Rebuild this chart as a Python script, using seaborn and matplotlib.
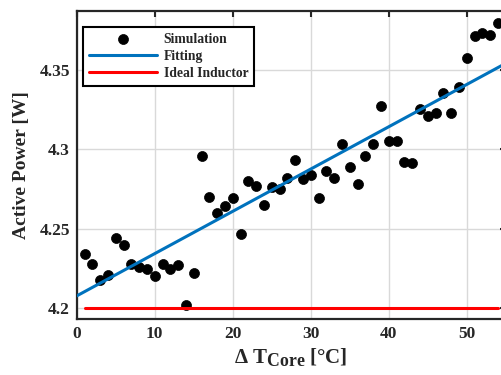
import numpy as np
import pandas as pd
import matplotlib
matplotlib.use("Agg")
import matplotlib.pyplot as plt
import matplotlib._mathtext as _mt
import seaborn as sns

# ---- data ----
delta_t = list(range(1, 55))
power = [4.234, 4.228, 4.218, 4.221, 4.244, 4.240, 4.228, 4.226, 4.225, 4.220,
         4.228, 4.225, 4.227, 4.202, 4.222, 4.296, 4.270, 4.260, 4.264, 4.269,
         4.247, 4.280, 4.277, 4.265, 4.276, 4.275, 4.282, 4.293, 4.281, 4.284,
         4.269, 4.286, 4.282, 4.303, 4.289, 4.278, 4.296, 4.303, 4.327, 4.305,
         4.305, 4.292, 4.291, 4.325, 4.321, 4.323, 4.335, 4.323, 4.339, 4.357,
         4.371, 4.373, 4.372, 4.379]
fit_x = [0, 55]
fit_y = [4.2078, 4.3539]
ideal_x = [1, 54]
ideal_y = [4.2005, 4.2005]
x_ticks = [0, 10, 20, 30, 40, 50]
y_ticks = [4.2, 4.25, 4.3, 4.35]
y_ticklabels = ["4.2", "4.25", "4.3", "4.35"]

# larger subscripts, as in the reference
try:
    _mt.SHRINK_FACTOR = 0.85
except Exception:
    pass

sns.set_style("white")
plt.rcParams["font.family"] = ["Liberation Serif", "DejaVu Serif"]
plt.rcParams["font.weight"] = "bold"
plt.rcParams["mathtext.fontset"] = "custom"
plt.rcParams["mathtext.rm"] = "Liberation Serif:bold"
plt.rcParams["mathtext.bf"] = "Liberation Serif:bold"
plt.rcParams["mathtext.it"] = "Liberation Serif:bold"

fig = plt.figure(figsize=(5.01, 3.75), dpi=100)
ax = fig.add_axes([0.1531, 0.1485, 0.8563, 0.8235])

sim_df = pd.DataFrame({"x": delta_t, "y": power})
fit_df = pd.DataFrame({"x": fit_x, "y": fit_y})
ideal_df = pd.DataFrame({"x": ideal_x, "y": ideal_y})

sns.scatterplot(data=sim_df, x="x", y="y", ax=ax, color="black", s=52,
                edgecolor="black", linewidth=0.5, label="Simulation", zorder=3)
sns.lineplot(data=fit_df, x="x", y="y", ax=ax, color="#0072BD", linewidth=2.2,
             label="Fitting", zorder=4)
sns.lineplot(data=ideal_df, x="x", y="y", ax=ax, color="#FF0000", linewidth=2.2,
             label="Ideal Inductor", zorder=4)

ax.set_xlim(0, 55)
ax.set_ylim(4.1931, 4.3871)
ax.set_xticks(x_ticks)
ax.set_yticks(y_ticks)
ax.set_yticklabels(y_ticklabels)
ax.grid(True, color="#d9d9d9", linewidth=1.0)
ax.set_axisbelow(True)

for sp in ax.spines.values():
    sp.set_color("#262626")
    sp.set_linewidth(1.6)
ax.tick_params(direction="in", length=4, width=1.5, colors="#262626",
               top=True, right=True, labelsize=12.5, pad=5)
for lab in ax.get_xticklabels() + ax.get_yticklabels():
    lab.set_fontweight("bold")
    lab.set_color("#262626")

ax.set_xlabel("Δ T$_{\\mathbf{Core}}$ [°C]", fontsize=15, fontweight="bold",
              color="#262626", labelpad=3)
ax.set_ylabel("Active Power [W]", fontsize=14, fontweight="bold",
              color="#262626", labelpad=7)

leg = ax.legend(loc="upper left", bbox_to_anchor=(0.0154, 0.9475),
                borderaxespad=0, frameon=True, fancybox=False,
                framealpha=1, edgecolor="black", handlelength=5.0,
                handletextpad=0.45, labelspacing=0.3, borderpad=0.45,
                prop={"weight": "bold", "size": 9.8, "family": "Liberation Serif"})
leg.get_frame().set_linewidth(1.5)

fig.savefig("out.png", dpi=100)
